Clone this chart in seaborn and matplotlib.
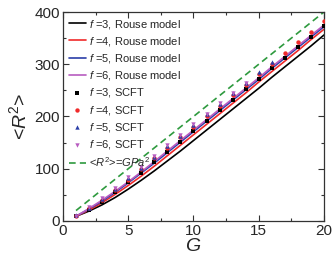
import numpy as np
import pandas as pd
import matplotlib
matplotlib.use("Agg")
import matplotlib.pyplot as plt
import seaborn as sns
from matplotlib.ticker import MultipleLocator

sns.set_style("ticks")
plt.rcParams['font.family'] = ['Liberation Sans', 'DejaVu Sans']
plt.rcParams['mathtext.fontset'] = 'custom'
plt.rcParams['mathtext.rm'] = 'Liberation Sans'
plt.rcParams['mathtext.it'] = 'Liberation Sans:italic'

# Данні
G = list(range(1, 21))

rouse_f3 = [9, 19, 31, 45, 61, 78, 96, 115, 134, 154, 174, 194, 214, 234, 254, 275, 295, 315, 335, 356]
rouse_f4 = [9, 21, 35, 51, 68, 86, 105, 125, 145, 165, 185, 205, 225, 245, 266, 286, 306, 326, 347, 367]
rouse_f5 = [9, 23, 38, 55, 73, 92, 111, 131, 151, 171, 191, 211, 231, 251, 271, 292, 312, 332, 352, 372]
rouse_f6 = [9, 24, 40, 57, 75, 94, 114, 134, 154, 174, 194, 214, 234, 254, 274, 295, 315, 335, 355, 375]

scft_f3 = [10, 21, 37, 55, 74, 92, 113, 133, 152, 172, 192, 212, 232, 252, 272, 292, 312, 333, 353, 373]
scft_f4 = [10, 24, 41, 60, 79, 99, 120, 140, 160, 180, 200, 221, 241, 261, 281, 301, 322, 342, 362, 382]
G_f5 = list(range(1, 17))
scft_f5 = [11, 25, 43, 62, 82, 102, 122, 143, 163, 184, 204, 224, 245, 265, 286, 305]
G_f6 = list(range(1, 15))
scft_f6 = [10, 26, 44, 64, 84, 104, 124, 145, 165, 185, 205, 225, 245, 265]

G_ideal = [1, 20]
ideal = [20, 400]

colors = {3: "black", 4: "#f02a2a", 5: "#2b3ea8", 6: "#b85cc0"}

fig = plt.figure(figsize=(3.34, 2.68), dpi=100)
ax = fig.add_axes([0.1886, 0.1754, 0.7814, 0.7798])

rouse = {3: rouse_f3, 4: rouse_f4, 5: rouse_f5, 6: rouse_f6}
for f, vals in rouse.items():
    sns.lineplot(x=G, y=vals, color=colors[f], lw=1.2, ax=ax,
                 label=rf"$f$ ={f}, Rouse model", legend=False)

scft = [(3, G, scft_f3, "s"), (4, G, scft_f4, "o"),
        (5, G_f5, scft_f5, "^"), (6, G_f6, scft_f6, "v")]
for f, gx, vals, m in scft:
    sns.scatterplot(x=gx, y=vals, color=colors[f], marker=m, s=10,
                    linewidth=0, ax=ax, zorder=3,
                    label=rf"$f$ ={f}, SCFT", legend=False)

sns.lineplot(x=G_ideal, y=ideal, color="#2e9a3e", lw=1.2, ax=ax,
             label=r"<$R^2$>=$GPa^2$", legend=False)
ax.lines[-1].set_dashes([4, 2.5])

ax.set_xlim(0, 20)
ax.set_ylim(0, 400)
ax.xaxis.set_major_locator(MultipleLocator(5))
ax.xaxis.set_minor_locator(MultipleLocator(2.5))
ax.yaxis.set_major_locator(MultipleLocator(100))
ax.yaxis.set_minor_locator(MultipleLocator(50))
ax.tick_params(which="both", direction="in", top=True, right=True,
               labelsize=11, color="#333333", width=0.8)
ax.tick_params(which="major", length=4, pad=2)
ax.tick_params(which="minor", length=2.5)
for sp in ax.spines.values():
    sp.set_linewidth(0.9)
    sp.set_color("#333333")

ax.set_xlabel(r"$G$", fontsize=14, labelpad=0)
ax.set_ylabel(r"<$R^2$>", fontsize=14, labelpad=3)

handles, labels = ax.get_legend_handles_labels()
ax.legend(handles, labels, loc="upper left", frameon=False, fontsize=8.0,
          handlelength=1.6, handletextpad=0.25, labelspacing=0.38,
          borderaxespad=0.1, borderpad=0.4)

fig.savefig("out.png", dpi=100)
